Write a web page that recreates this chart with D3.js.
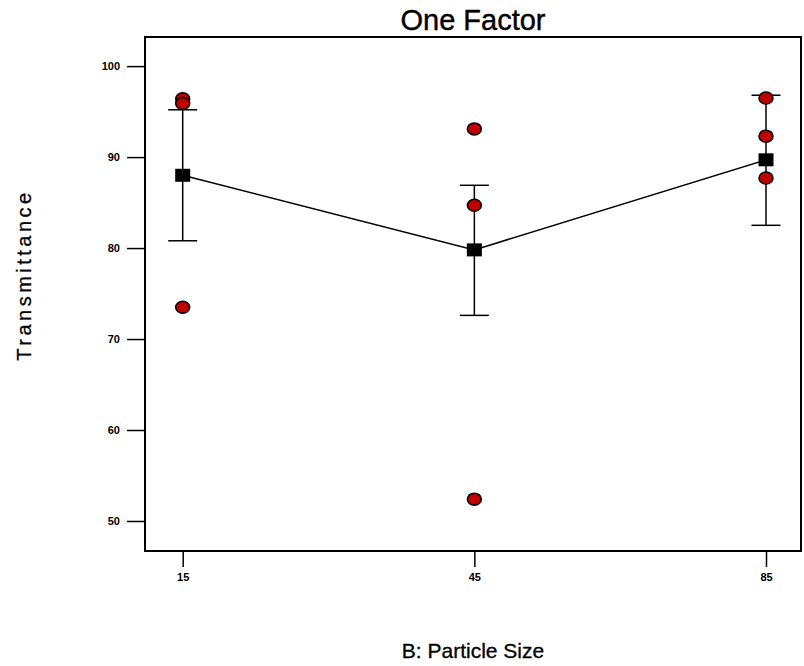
<html>

<head>
  <title>One Factor</title>
  <script type="text/javascript" src="https://cdn.jsdelivr.net/npm/d3@7"></script>

  <style type="text/css">
    body { margin: 0; background: #fff; }
    text { font-family: Arial, "Liberation Sans", sans-serif; fill: #000; }
    .tick text { font-size: 11px; font-weight: bold; }
    .tick line, .domain { stroke: #000; stroke-width: 1.5; }
  </style>
</head>

<body>
  <script>
  // Width and height
  const w = 804;
  const h = 666;

  // Data
  const categories = ["15", "45", "85"];
  const means = [88.0, 79.8, 89.7];
  const upper = [95.2, 86.9, 96.8];
  const lower = [80.8, 72.6, 82.5];
  const pointCat = ["15", "15", "15", "45", "45", "45", "85", "85", "85"];
  const pointVal = [96.4, 95.9, 73.5, 93.1, 84.7, 52.4, 96.5, 92.3, 87.7];
  const yTicks = [50, 60, 70, 80, 90, 100];

  // Plot frame
  const plotLeft = 145, plotRight = 801, plotTop = 37, plotBottom = 551;

  const xScale = d3.scalePoint()
    .domain(categories)
    .range([182.7, 766]);

  const yScale = d3.scaleLinear()
    .domain([46.7, 103.2])
    .range([plotBottom, plotTop]);

  const svg = d3.select("body")
    .append("svg")
    .attr("width", w)
    .attr("height", h);

  // Frame
  svg.append("rect")
    .attr("x", plotLeft)
    .attr("y", plotTop)
    .attr("width", plotRight - plotLeft)
    .attr("height", plotBottom - plotTop)
    .attr("fill", "none")
    .attr("stroke", "#000")
    .attr("stroke-width", 2);

  // Axes
  const xAxis = d3.axisBottom(xScale).tickSize(16).tickPadding(6);
  const yAxis = d3.axisLeft(yScale).tickValues(yTicks).tickSize(18).tickPadding(7);

  svg.append("g")
    .attr("transform", "translate(0," + plotBottom + ")")
    .call(xAxis)
    .call(g => g.select(".domain").remove());

  svg.append("g")
    .attr("transform", "translate(" + plotLeft + ",0)")
    .call(yAxis)
    .call(g => g.select(".domain").remove());

  // Error bars
  const bars = svg.append("g").attr("stroke", "#000").attr("stroke-width", 1.5);
  categories.forEach(function(c, i) {
    const x = xScale(c);
    bars.append("line")
      .attr("x1", x).attr("x2", x)
      .attr("y1", yScale(upper[i])).attr("y2", yScale(lower[i]));
    [upper[i], lower[i]].forEach(function(v) {
      bars.append("line")
        .attr("x1", x - 14.5).attr("x2", x + 14.5)
        .attr("y1", yScale(v)).attr("y2", yScale(v));
    });
  });

  // Mean line
  const line = d3.line()
    .x(function(d, i) { return xScale(categories[i]); })
    .y(function(d) { return yScale(d); });

  svg.append("path")
    .datum(means)
    .attr("d", line)
    .attr("fill", "none")
    .attr("stroke", "#000")
    .attr("stroke-width", 1.5);

  // Observed points
  svg.selectAll(".pt")
    .data(pointVal)
    .enter()
    .append("ellipse")
    .attr("class", "pt")
    .attr("cx", function(d, i) { return xScale(pointCat[i]); })
    .attr("cy", function(d) { return yScale(d); })
    .attr("rx", 7)
    .attr("ry", 6)
    .attr("fill", "#c00000")
    .attr("stroke", "#000")
    .attr("stroke-width", 1.5);

  // Mean markers
  svg.selectAll(".mean")
    .data(means)
    .enter()
    .append("rect")
    .attr("class", "mean")
    .attr("x", function(d, i) { return xScale(categories[i]) - 7.5; })
    .attr("y", function(d) { return yScale(d) - 6.5; })
    .attr("width", 15)
    .attr("height", 13)
    .attr("fill", "#000");

  // Titles
  svg.append("text")
    .attr("x", 473)
    .attr("y", 30)
    .attr("text-anchor", "middle")
    .style("font-size", "29px")
    .style("stroke", "#000")
    .style("stroke-width", 0.4)
    .text("One Factor");

  svg.append("text")
    .attr("x", 473)
    .attr("y", 658)
    .attr("text-anchor", "middle")
    .style("font-size", "21px")
    .style("stroke", "#000")
    .style("stroke-width", 0.3)
    .text("B: Particle Size");

  svg.append("text")
    .attr("transform", "translate(31,275) rotate(-90)")
    .attr("text-anchor", "middle")
    .style("font-size", "20px")
    .style("letter-spacing", "3.5px")
    .style("stroke", "#000")
    .style("stroke-width", 0.3)
    .text("Transmittance");
  </script>
</body>

</html>
